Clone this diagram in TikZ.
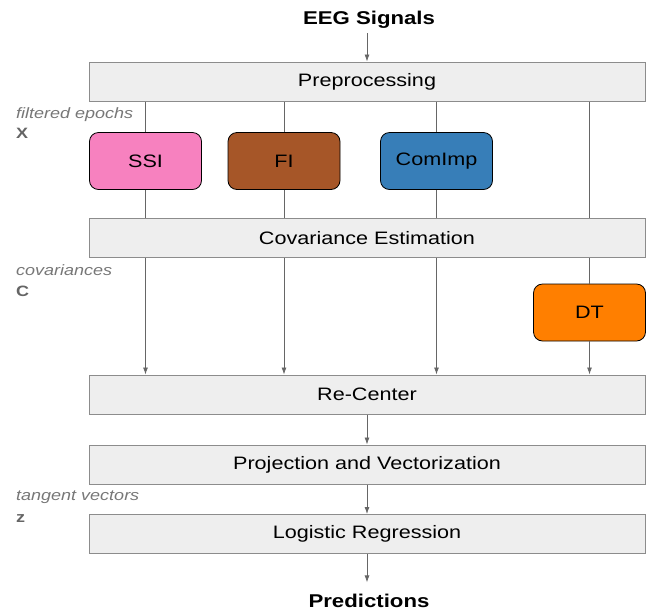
\documentclass[tikz,border=0pt]{standalone}
\usepackage{fontspec}
\setmainfont{Liberation Sans}[FakeStretch=1.2]
\usepackage{tikz}
\usetikzlibrary{positioning, arrows.meta}

\definecolor{ssicol}{HTML}{F781BF}
\definecolor{ficol}{HTML}{A65628}
\definecolor{impcol}{HTML}{377EB8}
\definecolor{dtcol}{HTML}{FF7F00}
\definecolor{stagefill}{HTML}{EEEEEE}
\definecolor{stageline}{HTML}{8C8C8C}
\definecolor{wirecol}{HTML}{666666}
\definecolor{notecol}{HTML}{777777}

\tikzset{
	stage/.style = {draw = stageline, fill = stagefill, line width = 1pt, minimum width = 556pt, minimum height = 39pt, inner sep = 0pt, font = \fontsize{18}{20}\selectfont},
	method/.style = {draw = black, rounded corners = 9pt, line width = 0.8pt, minimum width = 112pt, minimum height = 57pt, inner sep = 0pt, font = \fontsize{18}{20}\selectfont},
	io/.style = {inner sep = 0pt, font = \fontsize{18.5}{20}\selectfont\bfseries},
	note/.style = {anchor = base west, inner sep = 0pt, text = notecol, font = \fontsize{15}{17}\selectfont\itshape},
	sym/.style = {anchor = base west, inner sep = 0pt, text = notecol!85!black, font = \fontsize{15}{17}\selectfont\bfseries},
	wire/.style = {draw = wirecol, line width = 0.8pt},
	flow/.style = {wire, -{Latex[length = 7pt, width = 5pt]}}
}

\begin{document}
\begin{tikzpicture}[x = 1pt, y = -1pt]
		\useasboundingbox (0, 0) rectangle (661, 614);
		\node[io, anchor = base] (eeg) at (369, 24) {EEG Signals};
		\node[stage] (pre) at (367, 81.5) {Preprocessing};
		\node[method, fill = ssicol] (ssi) at (145.5, 161) {SSI};
		\node[method, fill = ficol] (fi) at (284, 161) {FI};
		\node[method, fill = impcol] (imp) at (436.5, 161) {ComImp};
		\node[stage] (cov) at (367, 238) {Covariance Estimation};
		\node[method, fill = dtcol] (dt) at (589.5, 312.5) {DT};
		\node[stage] (rc) at (367, 394.5) {Re-Center};
		\node[stage] (proj) at (367, 464.5) {Projection and Vectorization};
		\node[stage] (lr) at (367, 534) {Logistic Regression};
		\node[io, anchor = base] (pred) at (369, 607) {Predictions};
		\node[note] (xnote) at (16, 118) {filtered epochs};
		\node[sym] (xsym) at (16, 138) {X};
		\node[note] (cnote) at (16, 275) {covariances};
		\node[sym] (csym) at (16, 296) {C};
		\node[note] (znote) at (16, 500) {tangent vectors};
		\node[sym] (zsym) at (16, 522) {z};
		\draw[flow] ([yshift = -5pt]eeg.south -| pre.north) -- (pre.north);
		\draw[wire] (pre.south -| ssi.north) -- (ssi.north);
		\draw[wire] (pre.south -| fi.north) -- (fi.north);
		\draw[wire] (pre.south -| imp.north) -- (imp.north);
		\draw[wire] (pre.south -| dt.north) -- (cov.north -| dt.north);
		\draw[wire] (ssi.south) -- (cov.north -| ssi.south);
		\draw[wire] (fi.south) -- (cov.north -| fi.south);
		\draw[wire] (imp.south) -- (cov.north -| imp.south);
		\draw[wire] (cov.south -| dt.north) -- (dt.north);
		\draw[flow] (cov.south -| ssi.south) -- (rc.north -| ssi.south);
		\draw[flow] (cov.south -| fi.south) -- (rc.north -| fi.south);
		\draw[flow] (cov.south -| imp.south) -- (rc.north -| imp.south);
		\draw[flow] (dt.south) -- (rc.north -| dt.south);
		\draw[flow] (rc.south) -- (proj.north);
		\draw[flow] (proj.south) -- (lr.north);
		\draw[flow] (lr.south) -- ([yshift = 11pt]pred.north -| lr.south);
\end{tikzpicture}
\end{document}
